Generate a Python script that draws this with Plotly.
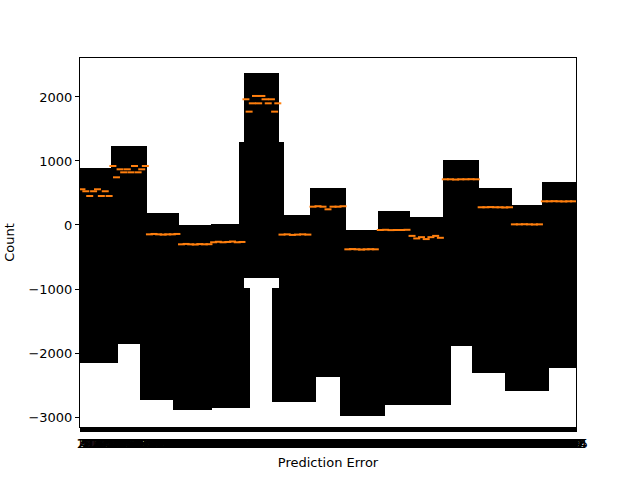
import plotly.graph_objects as go

# ---- data ----
group_sizes = [31, 36, 32, 32, 33, 35, 31, 35, 32, 32, 33, 36, 33, 30, 34]
whisker_high = [890, 1234, 187, -5, 10, 2375, 156, 578, -78, 219, 125, 1016, 578, 312, 672]
whisker_low = [-1850, -1860, -2700, -2700, -990, -828, -1000, -2375, -2300, -2300, -1890, -1890, -1850, -2234, -2234]

# flier clusters: first box, last box, highest flier, lowest flier
flier_first = [1, 61, 94, 132, 160, 193, 260, 304, 330, 392, 425]
flier_last = [38, 94, 132, 170, 204, 236, 304, 332, 370, 425, 468]
flier_high = [-1700, -1800, -1800, -984, 1297, -984, -2300, -2300, -1850, -1800, -1800]
flier_low = [-2156, -2734, -2890, -2860, -800, -2766, -2984, -2813, -2813, -2312, -2594]

# visible medians per group
medians = [
    [558, 527, 453, 527, 558, 453, 527, 453],
    [922, 745, 870, 823, 870, 823, 922, 823, 870, 922],
    [-146, -140, -146, -150, -146, -146, -140],
    [-302, -296, -302, -305, -298, -302, -300],
    [-270, -262, -270, -265, -258, -270, -265],
    [1964, 1771, 1901, 2016, 1901, 2016, 1964, 1901, 1964, 1771, 1901],
    [-150, -146, -155, -150, -146, -150],
    [286, 293, 286, 245, 286, 286, 293],
    [-380, -376, -380, -384, -380, -378, -380],
    [-78, -75, -80, -78, -78, -75],
    [-170, -210, -190, -220, -190, -170, -200],
    [714, 714, 710, 714, 714, 716, 714],
    [277, 277, 280, 277, 277, 274, 277],
    [10, 10, 12, 10, 8, 10],
    [370, 370, 372, 370, 368, 370, 370],
]

n_boxes = sum(group_sizes)
tick_vals = list(range(1, n_boxes + 1))
tick_text = [str(v) for v in tick_vals]

# ---- build traces ----
starts = []
s = 1
for n in group_sizes:
    starts.append(s)
    s += n

centers = [st + (n - 1) / 2 for st, n in zip(starts, group_sizes)]

fig = go.Figure()

fig.add_trace(go.Bar(
    x=centers,
    y=[h - l for h, l in zip(whisker_high, whisker_low)],
    base=whisker_low,
    width=group_sizes,
    marker=dict(color="black", line=dict(width=0)),
    hoverinfo="skip", showlegend=False,
))

fig.add_trace(go.Bar(
    x=[(a + b) / 2 for a, b in zip(flier_first, flier_last)],
    y=[h - l for h, l in zip(flier_high, flier_low)],
    base=flier_low,
    width=[b - a + 1 for a, b in zip(flier_first, flier_last)],
    marker=dict(color="black", line=dict(width=0)),
    hoverinfo="skip", showlegend=False,
))

mx, my = [], []
for st, n, meds in zip(starts, group_sizes, medians):
    k = len(meds)
    for j, m in enumerate(meds):
        mx.append(st + (j + 0.5) * n / k - 0.5)
        my.append(m)

fig.add_trace(go.Scatter(
    x=mx, y=my, mode="markers",
    marker=dict(symbol="line-ew", size=5, line=dict(color="#ff7f0e", width=2)),
    hoverinfo="skip", showlegend=False,
))

font = dict(family="DejaVu Sans", size=13, color="black")

fig.update_layout(
    width=640, height=480,
    margin=dict(l=80, r=64, t=58, b=53),
    paper_bgcolor="white", plot_bgcolor="white",
    barmode="overlay", bargap=0,
    font=font,
    showlegend=False,
)

fig.update_xaxes(
    range=[0.5, n_boxes + 0.5],
    tickmode="array", tickvals=tick_vals, ticktext=tick_text,
    tickangle=0,
    ticks="outside", ticklen=4, tickwidth=1.6, tickcolor="black",
    showline=True, linecolor="black", linewidth=1, mirror=True,
    showgrid=False, zeroline=False,
    title=dict(text="Prediction Error", font=font, standoff=8),
    tickfont=font,
    automargin=False,
)

fig.update_yaxes(
    range=[-3156, 2609],
    tickmode="array", tickvals=[-3000, -2000, -1000, 0, 1000, 2000],
    ticks="outside", ticklen=4, tickwidth=1, tickcolor="black",
    showline=True, linecolor="black", linewidth=1, mirror=True,
    showgrid=False, zeroline=False,
    title=dict(text="Count", font=font, standoff=10),
    tickfont=font,
    automargin=False,
)

fig.write_html("out.html")
